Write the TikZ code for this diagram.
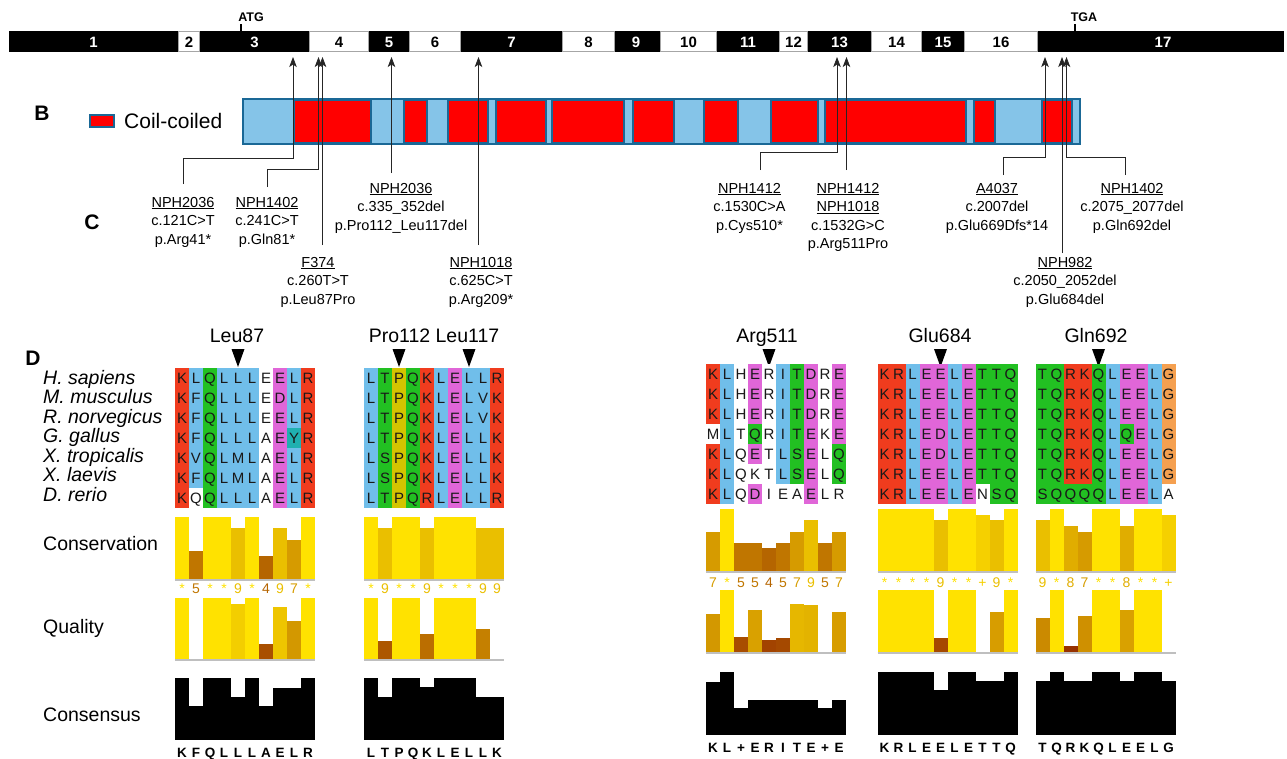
\documentclass[tikz,border=0pt]{standalone}
\usepackage{fontspec}
\setmainfont{Liberation Sans}
\usetikzlibrary{arrows.meta}
\definecolor{dkblue}{RGB}{26,104,150}
\definecolor{ltblue}{RGB}{133,196,232}
\definecolor{cr}{RGB}{240,60,30}
\definecolor{cb}{RGB}{112,190,234}
\definecolor{cg}{RGB}{34,192,34}
\definecolor{cm}{RGB}{224,102,216}
\definecolor{cy}{RGB}{212,196,0}
\definecolor{co}{RGB}{245,160,80}
\definecolor{ct}{RGB}{32,176,176}
\definecolor{cw}{RGB}{255,255,255}
\definecolor{yel}{RGB}{255,226,0}
\definecolor{brn}{RGB}{140,30,0}
\newcommand\fsz[1]{\fontsize{#1}{#1}\selectfont}
% alignment row: x0, y centre, name, list of letter/colour
\newcommand\alnrow[4]{%
  \foreach \ch/\cc [count=\i from 0] in {#4} {
    \fill[fill=\cc] (#1+\i*14,#2-10) rectangle ++(14,20);
    \node[aa] (#3-\i) at (#1+\i*14+7,#2+5.4) {\ch};
  }}
% bars: x0, base, full height, max, list
\newcommand\vbars[5]{%
  \foreach \v [count=\i from 0] in {#5} {
    \pgfmathtruncatemacro\p{round(\v/#4*100)}
    \fill[fill=yel!\p!brn] (#1+\i*14,#2) rectangle ++(14,-\v/#4*#3);
  }
  \draw[gray!50, line width=1.5pt] (#1,#2+0.75) -- ++(140,0);}
% conservation symbols: x0, baseline, name, list symbol/score
\newcommand\cdigits[4]{%
  \foreach \d/\s [count=\i from 0] in {#4} {
    \pgfmathtruncatemacro\p{round(\s/11*100)}
    \node[cd, text=yel!\p!brn] (#3-\i) at (#1+\i*14+7,#2) {\d};
  }}
% consensus: x0, base, height, list
\newcommand\consbars[4]{%
  \foreach \v [count=\i from 0] in {#4} {
    \fill[black] (#1+\i*14,#2) rectangle ++(14,-\v*#3);
  }}
\newcommand\constext[4]{%
  \foreach \c [count=\i from 0] in {#4} {
    \node[cs] (#3-\i) at (#1+\i*14+7,#2) {\c};
  }}
\begin{document}
\begin{tikzpicture}[x=1pt,y=-1pt,
  conn/.style={draw=black!85, line width=0.75pt, -{Stealth[length=10pt,width=7.5pt,inset=2.5pt]}},
  mut/.style={font=\fontsize{14.5}{18.6}\selectfont, align=center, anchor=north, inner sep=0pt},
  exw/.style={font=\bfseries\fsz{15}, text=white, inner sep=0pt, anchor=base},
  exb/.style={font=\bfseries\fsz{15}, text=black, inner sep=0pt, anchor=base},
  codon/.style={font=\bfseries\fsz{12.5}, inner sep=0pt, anchor=base},
  panel/.style={font=\bfseries\fsz{21}, inner sep=0pt, anchor=base},
  dl/.style={font=\fsz{19.5}, inner sep=0pt, anchor=base west},
  tl/.style={font=\fsz{19.5}, inner sep=0pt, anchor=base},
  aa/.style={font=\fsz{15}, text=black!90, inner sep=0pt, anchor=base},
  cd/.style={font=\fsz{14}, inner sep=0pt, anchor=base},
  cs/.style={font=\bfseries\fsz{13.5}, inner sep=0pt, anchor=base},
  exwhite/.style={fill=white, draw=gray!70, line width=0.8pt},
  redseg/.style={fill=red, draw=dkblue, line width=1.3pt}]
\useasboundingbox (0,0) rectangle (1287,758);

% ---------------- A: exon bar
\fill[black] (9,31) rectangle (1284,52);
\foreach \a/\b in {178/200,309/369,409/461,562/615,660/717,779/808,871/922,964/1038}
  \filldraw[exwhite] (\a+0.8,31.8) rectangle (\b-0.8,51.2);
\node[exw] (e1) at (93.5,47) {1};
\node[exb] (e2) at (189,47) {2};
\node[exw] (e3) at (254.5,47) {3};
\node[exb] (e4) at (339,47) {4};
\node[exw] (e5) at (389,47) {5};
\node[exb] (e6) at (435,47) {6};
\node[exw] (e7) at (511.5,47) {7};
\node[exb] (e8) at (588.5,47) {8};
\node[exw] (e9) at (636,47) {9};
\node[exb] (e10) at (688.5,47) {10};
\node[exw] (e11) at (748,47) {11};
\node[exb] (e12) at (793.5,47) {12};
\node[exw] (e13) at (839.5,47) {13};
\node[exb] (e14) at (896.5,47) {14};
\node[exw] (e15) at (943,47) {15};
\node[exb] (e16) at (1001,47) {16};
\node[exw] (e17) at (1163,47) {17};
\node[codon] (atg) at (251,21) {ATG};
\draw[line width=1.6pt] (241,24) -- (241,31);
\node[codon] (tga) at (1084,21) {TGA};
\draw[line width=1.6pt] (1075,24) -- (1075,31);

% ---------------- B: protein bar
\node[panel] (B) at (42,120) {B};
\filldraw[redseg, line width=2pt] (90,115) rectangle (114,127);
\node[font=\fsz{21}, inner sep=0pt, anchor=base west] (leg) at (124,128) {Coil-coiled};
\filldraw[fill=ltblue, draw=dkblue, line width=2.4pt] (243,99) rectangle (1080,144);
\foreach \a/\b in {294/371,404/427,448/488,496/546,552/624,633/674,704/738,771/818,825/966,974/995,1042/1072}
  \filldraw[redseg] (\a,100.2) rectangle (\b,142.8);
\draw[dkblue, line width=2.4pt] (243,99) rectangle (1080,144);

% ---------------- C: mutations
\node[panel] (C) at (92,229) {C};
\node[mut] (m1) at (183,196.8) {\underline{NPH2036}\\c.121C>T\\p.Arg41*};
\node[mut] (m2) at (267,196.8) {\underline{NPH1402}\\c.241C>T\\p.Gln81*};
\node[mut] (m3) at (401,182.8) {\underline{NPH2036}\\c.335\_352del\\p.Pro112\_Leu117del};
\node[mut] (m4) at (318,256.8) {\underline{F374}\\c.260T>T\\p.Leu87Pro};
\node[mut] (m5) at (481,256.8) {\underline{NPH1018}\\c.625C>T\\p.Arg209*};
\node[mut] (m6) at (749.5,182.8) {\underline{NPH1412}\\c.1530C>A\\p.Cys510*};
\node[mut] (m7) at (848,182.8) {\underline{NPH1412}\\\underline{NPH1018}\\c.1532G>C\\p.Arg511Pro};
\node[mut] (m8) at (997,182.8) {\underline{A4037}\\c.2007del\\p.Glu669Dfs*14};
\node[mut] (m9) at (1132,182.8) {\underline{NPH1402}\\c.2075\_2077del\\p.Gln692del};
\node[mut] (m10) at (1065,256.8) {\underline{NPH982}\\c.2050\_2052del\\p.Glu684del};

\coordinate (t1) at (293,57);   \coordinate (s1) at (183,184);   \coordinate (b1) at (293,158);
\coordinate (t2) at (318.5,57); \coordinate (s2) at (267,187);   \coordinate (b2) at (318.5,169);
\coordinate (t3) at (322.5,57); \coordinate (s3) at (322.5,245);
\coordinate (t4) at (391.5,57); \coordinate (s4) at (391.5,173);
\coordinate (t5) at (478.5,57); \coordinate (s5) at (478.5,245);
\coordinate (t6) at (837,57);   \coordinate (s6) at (760,170);   \coordinate (b6) at (837,152);
\coordinate (t7) at (846.5,57); \coordinate (s7) at (846.5,170);
\coordinate (t8) at (1045,57);  \coordinate (s8) at (1003,175);  \coordinate (b8) at (1045,157);
\coordinate (t9) at (1062,57);  \coordinate (s9) at (1062,253);
\coordinate (t10) at (1066.5,57); \coordinate (s10) at (1125.5,175); \coordinate (b10) at (1066.5,157);
\draw[conn] (s1) |- (b1) -- (t1);
\draw[conn] (s2) |- (b2) -- (t2);
\draw[conn] (s3) -- (t3);
\draw[conn] (s4) -- (t4);
\draw[conn] (s5) -- (t5);
\draw[conn] (s6) |- (b6) -- (t6);
\draw[conn] (s7) -- (t7);
\draw[conn] (s8) |- (b8) -- (t8);
\draw[conn] (s9) -- (t9);
\draw[conn] (s10) |- (b10) -- (t10);

% ---------------- D: alignments
\node[panel] (D) at (33,365) {D};
\node[dl] (sp1) at (43,384) {\textit{H. sapiens}};
\node[dl] (sp2) at (43,403.5) {\textit{M. musculus}};
\node[dl] (sp3) at (43,423) {\textit{R. norvegicus}};
\node[dl] (sp4) at (43,442.5) {\textit{G. gallus}};
\node[dl] (sp5) at (43,462) {\textit{X. tropicalis}};
\node[dl] (sp6) at (43,481.5) {\textit{X. laevis}};
\node[dl] (sp7) at (43,501) {\textit{D. rerio}};
\node[dl] (lcons) at (43,550) {Conservation};
\node[dl] (lqual) at (43,633) {Quality};
\node[dl] (lcns) at (43,721) {Consensus};

\node[tl] (h1) at (237,342) {Leu87};
\node[tl] (h2) at (434,342) {Pro112 Leu117};
\node[tl] (h3) at (767,342) {Arg511};
\node[tl] (h4) at (940,342) {Glu684};
\node[tl] (h5) at (1096,342) {Gln692};
\foreach \x in {238,399,469,769,940.5,1098.5}
  \fill[black] (\x-6.5,349) -- (\x+6.5,349) -- (\x,367) -- cycle;

% block 1
\alnrow{175}{378}{a1r0}{K/cr,L/cb,Q/cg,L/cb,L/cb,L/cb,E/cw,E/cm,L/cb,R/cr}
\alnrow{175}{398}{a1r1}{K/cr,F/cb,Q/cg,L/cb,L/cb,L/cb,E/cw,D/cm,L/cb,R/cr}
\alnrow{175}{418}{a1r2}{K/cr,F/cb,Q/cg,L/cb,L/cb,L/cb,E/cw,E/cm,L/cb,R/cr}
\alnrow{175}{438}{a1r3}{K/cr,F/cb,Q/cg,L/cb,L/cb,L/cb,A/cw,E/cm,Y/ct,R/cr}
\alnrow{175}{458}{a1r4}{K/cr,V/cb,Q/cg,L/cb,M/cb,L/cb,A/cw,E/cm,L/cb,R/cr}
\alnrow{175}{478}{a1r5}{K/cr,F/cb,Q/cg,L/cb,M/cb,L/cb,A/cw,E/cm,L/cb,R/cr}
\alnrow{175}{498}{a1r6}{K/cr,Q/cw,Q/cg,L/cb,L/cb,L/cb,A/cw,E/cm,L/cb,R/cr}
% block 2
\alnrow{364}{378}{a2r0}{L/cb,T/cg,P/cy,Q/cg,K/cr,L/cb,E/cm,L/cb,L/cb,R/cr}
\alnrow{364}{398}{a2r1}{L/cb,T/cg,P/cy,Q/cg,K/cr,L/cb,E/cm,L/cb,V/cb,K/cr}
\alnrow{364}{418}{a2r2}{L/cb,T/cg,P/cy,Q/cg,K/cr,L/cb,E/cm,L/cb,V/cb,K/cr}
\alnrow{364}{438}{a2r3}{L/cb,T/cg,P/cy,Q/cg,K/cr,L/cb,E/cm,L/cb,L/cb,K/cr}
\alnrow{364}{458}{a2r4}{L/cb,S/cg,P/cy,Q/cg,K/cr,L/cb,E/cm,L/cb,L/cb,K/cr}
\alnrow{364}{478}{a2r5}{L/cb,S/cg,P/cy,Q/cg,K/cr,L/cb,E/cm,L/cb,L/cb,K/cr}
\alnrow{364}{498}{a2r6}{L/cb,T/cg,P/cy,Q/cg,R/cr,L/cb,E/cm,L/cb,L/cb,R/cr}
% block 3
\alnrow{706}{374}{a3r0}{K/cr,L/cb,H/cw,E/cm,R/cw,I/cb,T/cg,D/cm,R/cw,E/cm}
\alnrow{706}{394}{a3r1}{K/cr,L/cb,H/cw,E/cm,R/cw,I/cb,T/cg,D/cm,R/cw,E/cm}
\alnrow{706}{414}{a3r2}{K/cr,L/cb,H/cw,E/cm,R/cw,I/cb,T/cg,D/cm,R/cw,E/cm}
\alnrow{706}{434}{a3r3}{M/cw,L/cb,T/cw,Q/cg,R/cw,I/cb,T/cg,E/cm,K/cw,E/cm}
\alnrow{706}{454}{a3r4}{K/cr,L/cb,Q/cw,E/cm,T/cw,L/cb,S/cg,E/cm,L/cw,Q/cg}
\alnrow{706}{474}{a3r5}{K/cr,L/cb,Q/cw,K/cw,T/cw,L/cb,S/cg,E/cm,L/cw,Q/cg}
\alnrow{706}{494}{a3r6}{K/cr,L/cb,Q/cw,D/cm,I/cw,E/cw,A/cw,E/cm,L/cw,R/cw}
% block 4
\alnrow{877.5}{374}{a4r0}{K/cr,R/cr,L/cb,E/cm,E/cm,L/cb,E/cm,T/cg,T/cg,Q/cg}
\alnrow{877.5}{394}{a4r1}{K/cr,R/cr,L/cb,E/cm,E/cm,L/cb,E/cm,T/cg,T/cg,Q/cg}
\alnrow{877.5}{414}{a4r2}{K/cr,R/cr,L/cb,E/cm,E/cm,L/cb,E/cm,T/cg,T/cg,Q/cg}
\alnrow{877.5}{434}{a4r3}{K/cr,R/cr,L/cb,E/cm,D/cm,L/cb,E/cm,T/cg,T/cg,Q/cg}
\alnrow{877.5}{454}{a4r4}{K/cr,R/cr,L/cb,E/cm,D/cm,L/cb,E/cm,T/cg,T/cg,Q/cg}
\alnrow{877.5}{474}{a4r5}{K/cr,R/cr,L/cb,E/cm,E/cm,L/cb,E/cm,T/cg,T/cg,Q/cg}
\alnrow{877.5}{494}{a4r6}{K/cr,R/cr,L/cb,E/cm,E/cm,L/cb,E/cm,N/cw,S/cg,Q/cg}
% block 5
\alnrow{1035.5}{374}{a5r0}{T/cg,Q/cg,R/cr,K/cr,Q/cg,L/cb,E/cm,E/cm,L/cb,G/co}
\alnrow{1035.5}{394}{a5r1}{T/cg,Q/cg,R/cr,K/cr,Q/cg,L/cb,E/cm,E/cm,L/cb,G/co}
\alnrow{1035.5}{414}{a5r2}{T/cg,Q/cg,R/cr,K/cr,Q/cg,L/cb,E/cm,E/cm,L/cb,G/co}
\alnrow{1035.5}{434}{a5r3}{T/cg,Q/cg,R/cr,K/cr,Q/cg,L/cb,Q/cg,E/cm,L/cb,G/co}
\alnrow{1035.5}{454}{a5r4}{T/cg,Q/cg,R/cr,K/cr,Q/cg,L/cb,E/cm,E/cm,L/cb,G/co}
\alnrow{1035.5}{474}{a5r5}{T/cg,Q/cg,R/cr,K/cr,Q/cg,L/cb,E/cm,E/cm,L/cb,G/co}
\alnrow{1035.5}{494}{a5r6}{S/cg,Q/cg,Q/cg,Q/cg,Q/cg,L/cb,E/cm,E/cm,L/cb,A/cw}

% conservation
\vbars{175}{579}{62}{11}{11,5,11,11,9,11,4,9,7,11}
\vbars{364}{579}{62}{11}{11,9,11,11,9,11,11,11,9,9}
\vbars{706}{571}{62}{11}{7,11,5,5,4,5,7,9,5,7}
\vbars{877.5}{571}{62}{11}{11,11,11,11,9,11,11,10,9,11}
\vbars{1035.5}{571}{62}{11}{9,11,8,7,11,11,8,11,11,10}
\cdigits{175}{593}{c1}{*/11,5/5,*/11,*/11,9/9,*/11,4/4,9/9,7/7,*/11}
\cdigits{364}{593}{c2}{*/11,9/9,*/11,*/11,9/9,*/11,*/11,*/11,9/9,9/9}
\cdigits{706}{587}{c3}{7/7,*/11,5/5,5/5,4/4,5/5,7/7,9/9,5/5,7/7}
\cdigits{877.5}{587}{c4}{*/11,*/11,*/11,*/11,9/9,*/11,*/11,+/10,9/9,*/11}
\cdigits{1035.5}{587}{c5}{9/9,*/11,8/8,7/7,*/11,*/11,8/8,*/11,*/11,+/10}
% quality
\vbars{175}{659}{61}{1}{1,0,1,1,0.9,1,0.25,0.85,0.62,1}
\vbars{364}{659}{61}{1}{1,0.29,1,1,0.41,1,1,1,0.5,0}
\vbars{706}{652}{62}{1}{0.62,1,0.24,0.67,0.19,0.22,0.78,0.76,0,0.65}
\vbars{877.5}{652}{62}{1}{1,1,1,1,0.22,1,1,0,0.65,1}
\vbars{1035.5}{652}{62}{1}{0.55,1,0.1,0.58,1,1,0.67,1,1,0}
% consensus
\consbars{175}{740}{62}{1,0.55,1,1,0.70,1,0.55,0.84,0.84,1}
\consbars{364}{740}{62}{1,0.70,1,1,0.85,1,1,1,0.70,0.70}
\consbars{706}{735}{63}{0.84,1,0.43,0.55,0.55,0.55,0.55,0.55,0.43,0.55}
\consbars{877.5}{735}{63}{1,1,1,1,0.71,1,1,0.86,0.86,1}
\consbars{1035.5}{735}{63}{0.85,1,0.85,0.85,1,1,0.85,1,1,0.85}
\constext{175}{757}{k1}{K,F,Q,L,L,L,A,E,L,R}
\constext{364}{757}{k2}{L,T,P,Q,K,L,E,L,L,K}
\constext{706}{752}{k3}{K,L,+,E,R,I,T,E,+,E}
\constext{877.5}{752}{k4}{K,R,L,E,E,L,E,T,T,Q}
\constext{1035.5}{752}{k5}{T,Q,R,K,Q,L,E,E,L,G}
\end{tikzpicture}
\end{document}
